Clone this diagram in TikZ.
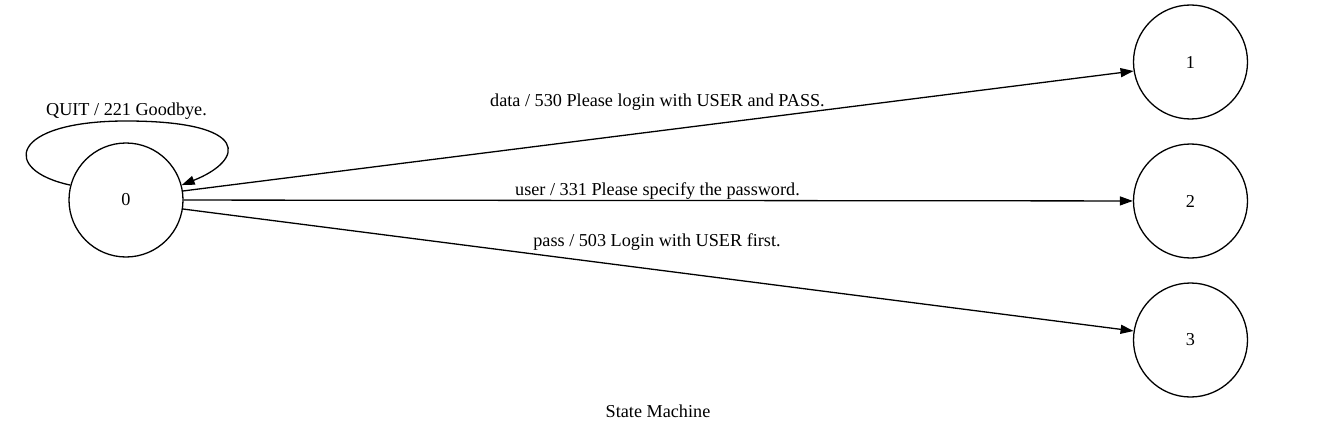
\documentclass[tikz,border=0pt]{standalone}
\usepackage{fontspec}
\setmainfont{Liberation Serif}
\usetikzlibrary{arrows.meta}
\begin{document}
\begin{tikzpicture}[x=1pt,y=-1pt,
  state/.style={circle,draw,line width=1.3pt,minimum size=114pt,inner sep=0pt,font=\fontsize{18.2}{20}\selectfont},
  lbl/.style={anchor=base,inner sep=0pt,font=\fontsize{18.2}{20}\selectfont},
  edge/.style={line width=1.3pt,-{Triangle[length=13pt,width=9pt]}}]
\useasboundingbox (0,0) rectangle (1317,433);
\node[state] (n0) at (126,200) {0};
\node[state] (n1) at (1190.5,62) {1};
\node[state] (n2) at (1190.5,201) {2};
\node[state] (n3) at (1190.5,340) {3};
\draw[edge] (n0.165) .. controls (0,170) and (10,121) .. (126,121)
  .. controls (252,121) and (245,160) .. (n0.15);
\node[lbl] (lq) at (126.5,116) {QUIT / 221 Goodbye.};
\draw[edge] (n0.9) -- (n1.189);
\draw[edge] (n0) -- (n2);
\draw[edge] (n0.-9) -- (n3.171);
\node[lbl] (l1) at (657.5,106.7) {data / 530 Please login with USER and PASS.};
\node[lbl] (l2) at (657.5,195) {user / 331 Please specify the password.};
\node[lbl] (l3) at (657,246) {pass / 503 Login with USER first.};
\node[lbl] (title) at (658,417) {State Machine};
\end{tikzpicture}
\end{document}
